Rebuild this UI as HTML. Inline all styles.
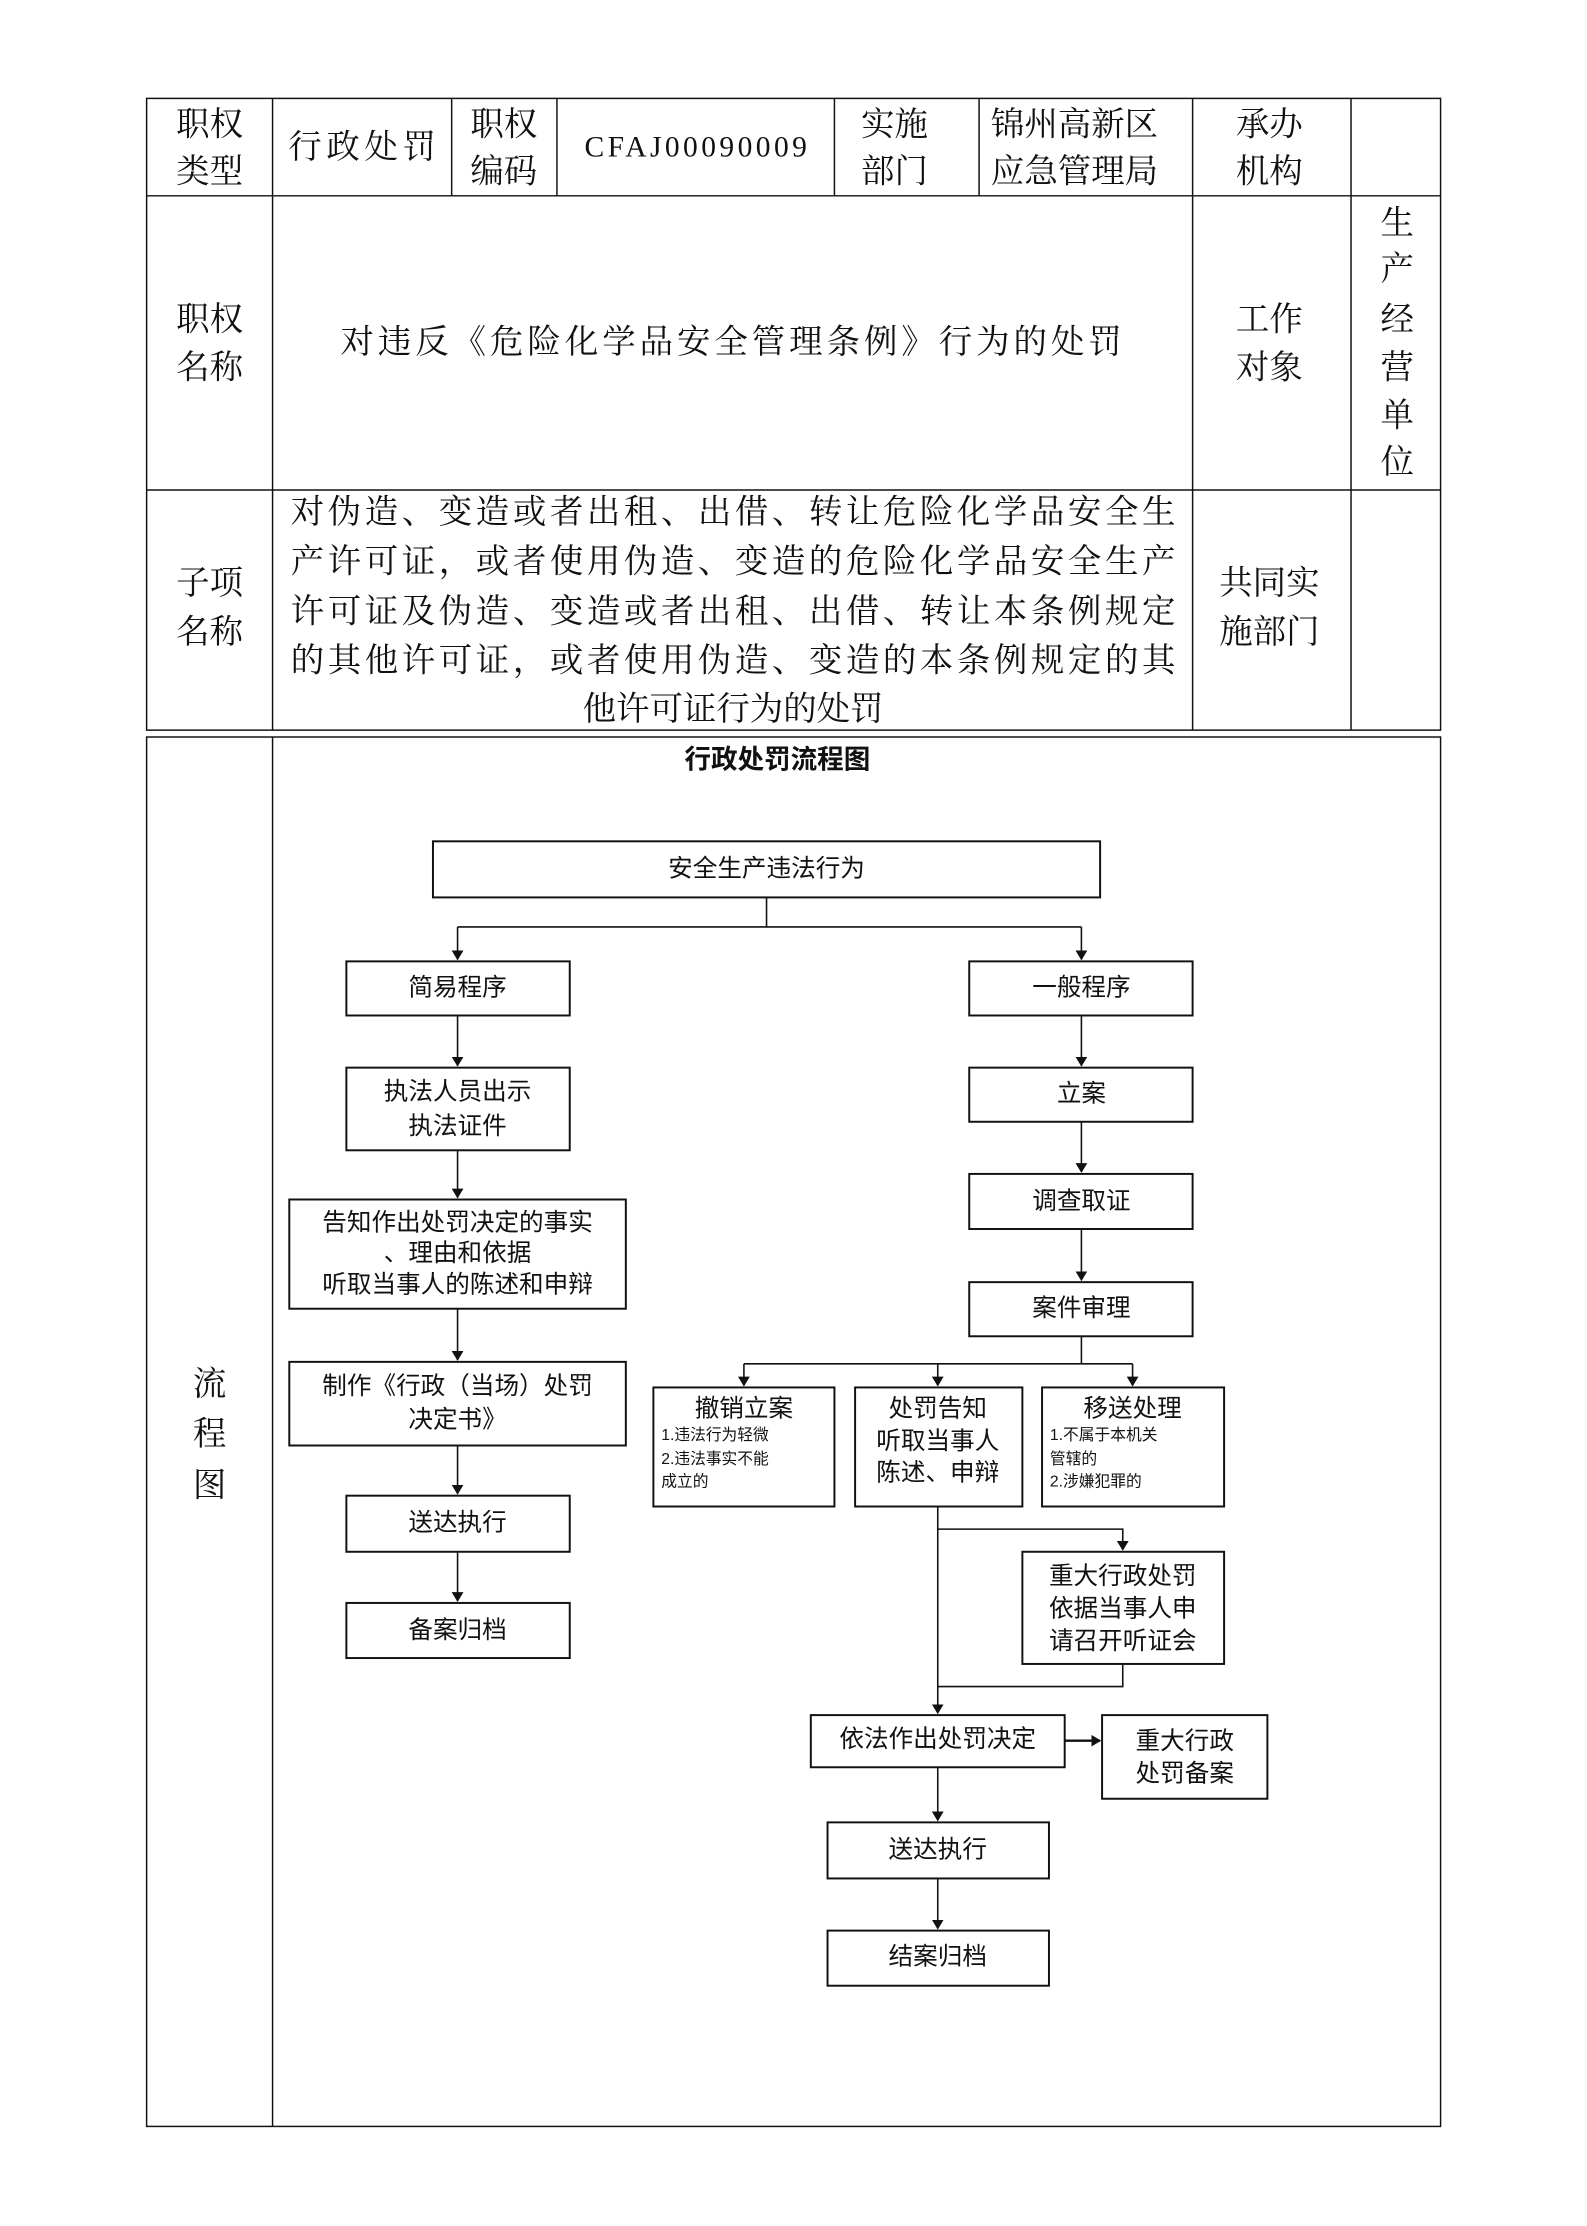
<!DOCTYPE html>
<html><head><meta charset="utf-8"><style>
html,body{margin:0;padding:0;background:#fff}
svg{display:block}
.s{font-family:"Liberation Serif","Noto Serif CJK SC",serif;font-size:34px;fill:#111}
.f{font-family:"Liberation Sans","Noto Sans CJK SC",sans-serif;font-size:25px;fill:#111}
.sm{font-family:"Liberation Sans","Noto Sans CJK SC",sans-serif;font-size:16px;fill:#111}
</style></head><body>
<svg width="1587" height="2226" viewBox="0 0 1587 2226" xmlns="http://www.w3.org/2000/svg">
<defs><marker id="a" markerWidth="10" markerHeight="12" refX="9" refY="6" orient="auto" markerUnits="userSpaceOnUse"><path d="M0,0 L10,6 L0,12 z" fill="#111"/></marker></defs>
<g transform="scale(0.984)">
<g stroke="#111" stroke-width="1.5" fill="none">
<rect x="149" y="100" width="1315" height="642"/>
<line x1="149" y1="199" x2="1464" y2="199"/>
<line x1="149" y1="498" x2="1464" y2="498"/>
<line x1="277" y1="100" x2="277" y2="742"/>
<line x1="459" y1="100" x2="459" y2="199"/>
<line x1="566" y1="100" x2="566" y2="199"/>
<line x1="848" y1="100" x2="848" y2="199"/>
<line x1="995" y1="100" x2="995" y2="199"/>
<line x1="1212" y1="100" x2="1212" y2="742"/>
<line x1="1373" y1="100" x2="1373" y2="742"/>
<rect x="149" y="749" width="1315" height="1412"/>
<line x1="277" y1="749" x2="277" y2="2161"/>
</g>
<g class="s" text-anchor="middle" dominant-baseline="central">
<text x="213" y="127">职权</text><text x="213" y="175">类型</text>
<text x="368" y="150" textLength="150" lengthAdjust="spacing">行政处罚</text>
<text x="512" y="127">职权</text><text x="512" y="175">编码</text>
<text x="707" y="150" font-size="30" textLength="226" lengthAdjust="spacing">CFAJ00090009</text>
<text x="909" y="127">实施</text><text x="909" y="175">部门</text>
<text x="1092" y="127">锦州高新区</text><text x="1092" y="175">应急管理局</text>
<text x="1290" y="127">承办</text><text x="1290" y="175">机构</text>
<text x="213" y="325">职权</text><text x="213" y="374">名称</text>
<text x="743" y="348" textLength="794" lengthAdjust="spacing">对违反《危险化学品安全管理条例》行为的处罚</text>
<text x="1290" y="325">工作</text><text x="1290" y="374">对象</text>
<text x="1420" y="227">生</text><text x="1420" y="274">产</text><text x="1420" y="325">经</text><text x="1420" y="374">营</text><text x="1420" y="423">单</text><text x="1420" y="470">位</text>
<text x="213" y="593">子项</text><text x="213" y="643">名称</text>
<text x="745" y="521" textLength="899" lengthAdjust="spacing">对伪造、变造或者出租、出借、转让危险化学品安全生</text>
<text x="745" y="571" textLength="899" lengthAdjust="spacing">产许可证，或者使用伪造、变造的危险化学品安全生产</text>
<text x="745" y="622" textLength="899" lengthAdjust="spacing">许可证及伪造、变造或者出租、出借、转让本条例规定</text>
<text x="745" y="672" textLength="899" lengthAdjust="spacing">的其他许可证，或者使用伪造、变造的本条例规定的其</text>
<text x="745" y="721">他许可证行为的处罚</text>
<text x="1290" y="593">共同实</text><text x="1290" y="643">施部门</text>
<text x="213" y="1407">流</text><text x="213" y="1458">程</text><text x="213" y="1510">图</text>
</g>
<g stroke="#111" stroke-width="2" fill="#fff">
<rect x="440" y="855" width="678" height="57"/>
<rect x="352" y="977" width="227" height="55"/>
<rect x="985" y="977" width="227" height="55"/>
<rect x="352" y="1085" width="227" height="84"/>
<rect x="985" y="1085" width="227" height="55"/>
<rect x="294" y="1219" width="342" height="111"/>
<rect x="985" y="1193" width="227" height="56"/>
<rect x="985" y="1303" width="227" height="55"/>
<rect x="294" y="1384" width="342" height="85"/>
<rect x="664" y="1410" width="184" height="121"/>
<rect x="869" y="1410" width="170" height="121"/>
<rect x="1059" y="1410" width="185" height="121"/>
<rect x="352" y="1520" width="227" height="57"/>
<rect x="352" y="1629" width="227" height="56"/>
<rect x="1039" y="1577" width="205" height="114"/>
<rect x="824" y="1743" width="258" height="53"/>
<rect x="1120" y="1743" width="168" height="85"/>
<rect x="841" y="1852" width="225" height="57"/>
<rect x="841" y="1962" width="225" height="56"/>
</g>
<g stroke="#111" stroke-width="1.6" fill="none">
<path d="M779 912 V942 M465 942 H1099"/>
<path d="M465 942 V975" marker-end="url(#a)"/>
<path d="M1099 942 V975" marker-end="url(#a)"/>
<path d="M465 1032 V1083" marker-end="url(#a)"/>
<path d="M465 1169 V1217" marker-end="url(#a)"/>
<path d="M465 1330 V1382" marker-end="url(#a)"/>
<path d="M465 1469 V1518" marker-end="url(#a)"/>
<path d="M465 1577 V1627" marker-end="url(#a)"/>
<path d="M1099 1032 V1083" marker-end="url(#a)"/>
<path d="M1099 1140 V1191" marker-end="url(#a)"/>
<path d="M1099 1249 V1301" marker-end="url(#a)"/>
<path d="M1099 1358 V1386 M756 1386 H1151"/>
<path d="M756 1386 V1408" marker-end="url(#a)"/>
<path d="M953 1386 V1408" marker-end="url(#a)"/>
<path d="M1151 1386 V1408" marker-end="url(#a)"/>
<path d="M953 1531 V1741" marker-end="url(#a)"/>
<path d="M953 1554 H1141 V1575" marker-end="url(#a)"/>
<path d="M1141 1691 V1714 H953"/>
<path d="M1082 1769 H1118" stroke-width="2.5" marker-end="url(#a)"/>
<path d="M953 1796 V1850" marker-end="url(#a)"/>
<path d="M953 1909 V1960" marker-end="url(#a)"/>
</g>
<g class="f" text-anchor="middle" dominant-baseline="central">
<text x="790" y="772" font-size="27" font-weight="bold">行政处罚流程图</text>
<text x="779" y="883">安全生产违法行为</text>
<text x="465" y="1004">简易程序</text>
<text x="1099" y="1004">一般程序</text>
<text x="465" y="1110">执法人员出示</text><text x="465" y="1145">执法证件</text>
<text x="1099" y="1112">立案</text>
<text x="465" y="1243">告知作出处罚决定的事实</text><text x="465" y="1274">、理由和依据</text><text x="465" y="1306">听取当事人的陈述和申辩</text>
<text x="1099" y="1221">调查取证</text>
<text x="1099" y="1330">案件审理</text>
<text x="465" y="1409">制作《行政（当场）处罚</text><text x="465" y="1443">决定书》</text>
<text x="756" y="1432">撤销立案</text>
<text x="953" y="1432">处罚告知</text><text x="953" y="1465">听取当事人</text><text x="953" y="1497">陈述、申辩</text>
<text x="1151" y="1432">移送处理</text>
<text x="465" y="1548">送达执行</text>
<text x="465" y="1657">备案归档</text>
<text x="1141" y="1602">重大行政处罚</text><text x="1141" y="1635">依据当事人申</text><text x="1141" y="1668">请召开听证会</text>
<text x="953" y="1768">依法作出处罚决定</text>
<text x="1204" y="1770">重大行政</text><text x="1204" y="1803">处罚备案</text>
<text x="953" y="1880">送达执行</text>
<text x="953" y="1989">结案归档</text>
</g>
<g class="sm" dominant-baseline="central">
<text x="672" y="1459">1.违法行为轻微</text><text x="672" y="1483">2.违法事实不能</text><text x="672" y="1506">成立的</text>
<text x="1067" y="1459">1.不属于本机关</text><text x="1067" y="1483">管辖的</text><text x="1067" y="1506">2.涉嫌犯罪的</text>
</g>
</g>
</svg>
</body></html>
